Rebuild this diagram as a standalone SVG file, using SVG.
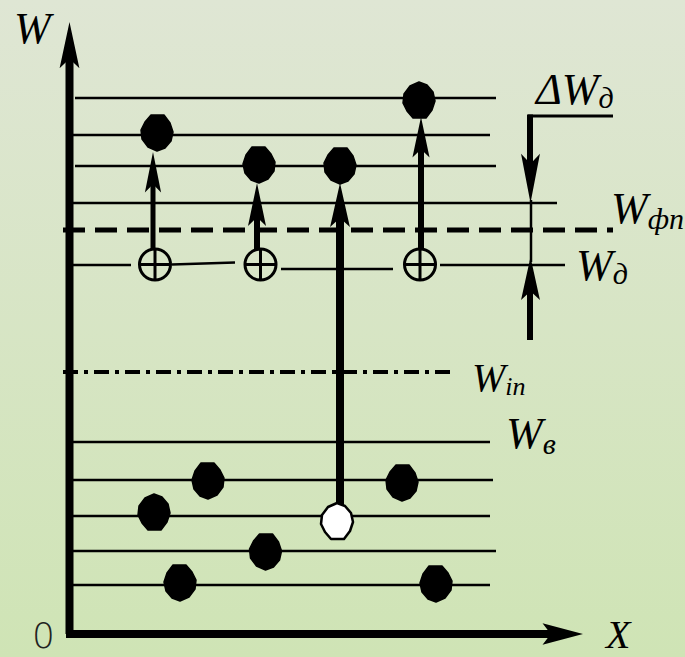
<svg xmlns="http://www.w3.org/2000/svg" width="685" height="657" viewBox="0 0 685 657">
<defs>
<linearGradient id="bg" x1="0" y1="0" x2="0" y2="1">
<stop offset="0" stop-color="#dfe6d4"/>
<stop offset="1" stop-color="#cfe4b5"/>
</linearGradient>
<path id="blob" d="M-6,-18 L7,-18 L13,-10 L16,-1 L14,8 L8,15 L0,18 L-9,14 L-15,6 L-16,-3 L-12,-11 Z"/>
<path id="head" d="M0,0 L9,44 L0,35 L-9,44 Z"/>
<g id="oplus">
<circle cx="0" cy="0" r="15.5" fill="none" stroke="#000" stroke-width="3"/>
<path d="M0,-15.5 V15.5 M-15.5,0 H15.5" stroke="#000" stroke-width="3" fill="none"/>
</g>
</defs>
<style>
.lvl{stroke:#000;stroke-width:2.6;fill:none}
.dash{stroke:#000;stroke-width:5;fill:none;stroke-dasharray:22 10}
.dashdot{stroke:#000;stroke-width:4;fill:none;stroke-dasharray:15 6 4 6}
.lab{font-family:"Liberation Serif","Times New Roman",serif;font-style:italic;fill:#000}
.dot{fill:#000;stroke:#000;stroke-width:1.5;stroke-linejoin:round}
.shaft{stroke:#000;fill:none}
</style>
<rect width="685" height="657" fill="url(#bg)"/>

<g id="levels">
<line class="lvl" x1="75" y1="98" x2="496" y2="98"/>
<line class="lvl" x1="73" y1="135" x2="490" y2="135"/>
<line class="lvl" x1="75" y1="166" x2="496" y2="166"/>
<line class="lvl" x1="73" y1="203" x2="557" y2="203"/>
<line class="dash" x1="63" y1="230" x2="613" y2="230"/>
<line class="lvl" x1="73" y1="265" x2="131" y2="265"/>
<line class="lvl" x1="172" y1="264.5" x2="235" y2="262.5"/>
<line class="lvl" x1="281" y1="269" x2="393" y2="269"/>
<line class="lvl" x1="440" y1="265" x2="565" y2="265"/>
<line class="dashdot" x1="63" y1="372" x2="455" y2="372"/>
<line class="lvl" x1="73" y1="442" x2="490" y2="442"/>
<line class="lvl" x1="73" y1="480" x2="493" y2="480"/>
<line class="lvl" x1="73" y1="516" x2="490" y2="516"/>
<line class="lvl" x1="73" y1="551" x2="496" y2="551"/>
<line class="lvl" x1="73" y1="585" x2="490" y2="585"/>
</g>

<g id="axes">
<line class="shaft" x1="69.5" y1="634" x2="69.5" y2="50" stroke-width="8"/>
<use href="#head" transform="translate(69.5,22) scale(1.1,1.05)"/>
<line class="shaft" x1="66" y1="634" x2="560" y2="634" stroke-width="8"/>
<use href="#head" transform="translate(583,634) rotate(90) scale(1.2,0.92)"/>
</g>

<g id="connectors">
<line class="shaft" x1="153" y1="249" x2="153" y2="180" stroke-width="5"/>
<use href="#head" transform="translate(153,152) scale(0.9,0.92)"/>
<line class="shaft" x1="257" y1="249" x2="257" y2="212" stroke-width="6"/>
<use href="#head" transform="translate(257,183) scale(1,0.98)"/>
<line class="shaft" x1="340" y1="506" x2="340" y2="215" stroke-width="8"/>
<use href="#head" transform="translate(340,183) scale(1.1,1)"/>
<line class="shaft" x1="421" y1="249" x2="421" y2="145" stroke-width="6"/>
<use href="#head" transform="translate(421,117) scale(0.95,0.92)"/>
<line class="shaft" x1="528" y1="116" x2="613" y2="116" stroke-width="3"/>
<line class="shaft" x1="530" y1="114.5" x2="530" y2="165" stroke-width="6"/>
<use href="#head" transform="translate(530.5,203) rotate(180) scale(1.05,1.12)"/>
<line class="shaft" x1="531" y1="200" x2="531" y2="262" stroke-width="2.5"/>
<line class="shaft" x1="530" y1="340" x2="530" y2="290" stroke-width="6"/>
<use href="#head" transform="translate(530.5,257) scale(1.05,0.98)"/>
</g>

<g id="donors">
<use href="#oplus" transform="translate(155,264.5)"/>
<use href="#oplus" transform="translate(260.5,264.5)"/>
<use href="#oplus" transform="translate(420,264.5)"/>
</g>

<g id="electrons-top">
<use class="dot" href="#blob" transform="translate(157,133)"/>
<use class="dot" href="#blob" transform="translate(259,165) scale(-1,1)"/>
<use class="dot" href="#blob" transform="translate(340,166)"/>
<use class="dot" href="#blob" transform="translate(419,100) scale(1,-1)"/>
</g>

<g id="electrons-bottom">
<use class="dot" href="#blob" transform="translate(208,481) scale(-1,1)"/>
<use class="dot" href="#blob" transform="translate(154,512) scale(1,-1)"/>
<use href="#blob" transform="translate(337,521) scale(1,-1)" fill="#fff" stroke="#000" stroke-width="2.5" stroke-linejoin="round"/>
<use class="dot" href="#blob" transform="translate(265.5,552)"/>
<use class="dot" href="#blob" transform="translate(180,583) scale(-1,1)"/>
<use class="dot" href="#blob" transform="translate(402,483)"/>
<use class="dot" href="#blob" transform="translate(436,584) scale(-1,1)"/>
</g>

<g id="labels">
<text class="lab" x="14" y="43" font-size="44">W</text>
<text class="lab" x="536" y="104" font-size="44">ΔW<tspan font-size="30" dy="4">д</tspan></text>
<text class="lab" x="611" y="223" font-size="44">W<tspan font-size="30" dy="6">фп</tspan></text>
<text class="lab" x="576" y="280" font-size="44">W<tspan font-size="30" dy="4">д</tspan></text>
<text class="lab" x="472" y="391" font-size="40">W<tspan font-size="26" dy="4">in</tspan></text>
<text class="lab" x="506" y="448" font-size="44">W<tspan font-size="30" dy="6">в</tspan></text>
<text class="lab" x="606" y="648" font-size="40">X</text>
<text x="32" y="648" font-family="DejaVu Sans, sans-serif" font-weight="200" font-size="36" fill="#222">0</text>
</g>
</svg>
